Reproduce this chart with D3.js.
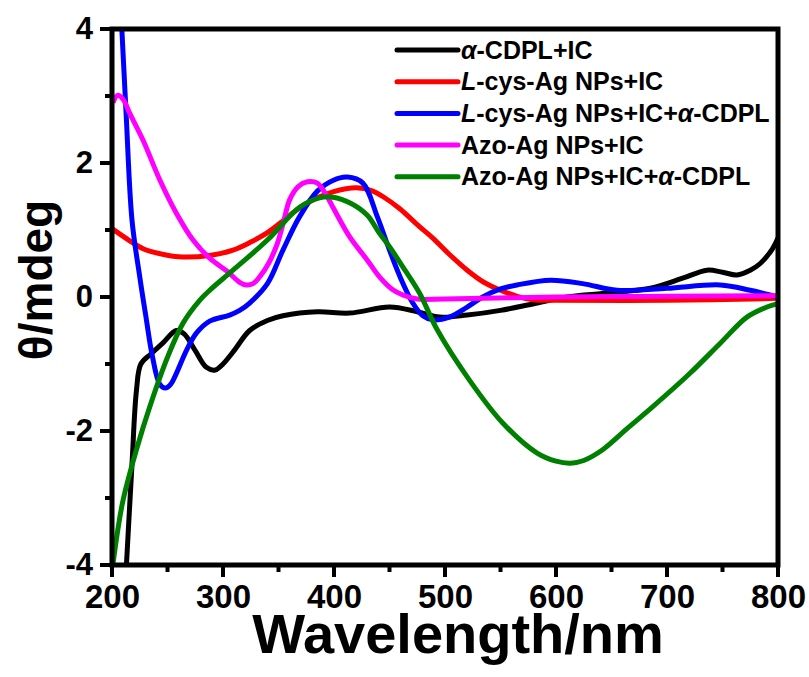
<!DOCTYPE html>
<html>
<head>
<meta charset="utf-8">
<script src="https://cdn.jsdelivr.net/npm/d3@7"></script>
<style>
  body { margin: 0; background: #fff; }
  text { font-family: Arial, "Liberation Sans", sans-serif; font-weight: bold; }
</style>
</head>
<body>
<svg></svg>
<script>
const width = 809;
const height = 677;

// wavelength (nm), theta (mdeg) pairs
const cdplIC = [[213,-4],[218,-2.5],[222,-1.4],[226,-1.0],[235,-0.85],[245,-0.7],[258,-0.5],[265,-0.55],[275,-0.8],[285,-1.05],[293,-1.09],[300,-1.0],[310,-0.8],[324,-0.5],[340,-0.35],[354,-0.28],[385,-0.22],[414,-0.24],[450,-0.15],[475,-0.22],[495,-0.3],[520,-0.27],[550,-0.2],[580,-0.1],[610,0],[640,0.05],[685,0.13],[714,0.28],[736,0.4],[750,0.37],[763,0.33],[775,0.4],[784,0.5],[795,0.72],[800,0.88]];
const lcysIC = [[200,1.02],[215,0.85],[228,0.72],[245,0.64],[260,0.6],[288,0.62],[309,0.7],[325,0.82],[340,0.96],[355,1.15],[369,1.33],[385,1.48],[399,1.57],[420,1.63],[435,1.58],[444,1.5],[459,1.32],[477,1.05],[489,0.88],[505,0.62],[520,0.4],[535,0.22],[550,0.1],[565,0.01],[579,-0.04],[600,-0.05],[700,-0.05],[800,-0.02]];
const lcysICcdpl = [[207,4.6],[211,3.3],[213,2.64],[218,1.15],[225,0.3],[231,-0.34],[236,-0.85],[243,-1.3],[248,-1.36],[253,-1.3],[258,-1.14],[267,-0.8],[276,-0.54],[288,-0.36],[306,-0.27],[315,-0.2],[324,-0.09],[340,0.2],[354,0.7],[369,1.2],[385,1.58],[399,1.74],[412,1.79],[426,1.7],[439,1.2],[450,0.7],[459,0.32],[471,-0.09],[480,-0.28],[489,-0.34],[504,-0.3],[520,-0.15],[534,0],[550,0.12],[565,0.18],[595,0.25],[624,0.2],[655,0.1],[700,0.13],[748,0.18],[775,0.1],[800,0]];
const azoIC = [[201,2.9],[205,3.01],[210,2.95],[216,2.74],[228,2.34],[243,1.75],[258,1.25],[273,0.85],[288,0.58],[304,0.38],[315,0.22],[321,0.18],[327,0.2],[333,0.3],[341,0.5],[349,0.8],[355,1.15],[360,1.45],[368,1.65],[376,1.72],[385,1.7],[392,1.55],[399,1.34],[414,0.9],[430,0.55],[441,0.3],[452,0.12],[462,0.03],[475,-0.03],[500,-0.03],[600,0],[700,0.01],[800,0.02]];
const azoICcdpl = [[201,-3.97],[205,-3.5],[210,-3.03],[222,-2.28],[234,-1.64],[250,-0.9],[264,-0.39],[279,-0.05],[288,0.1],[309,0.4],[340,0.85],[369,1.34],[387,1.48],[399,1.49],[415,1.4],[430,1.22],[441,0.95],[450,0.75],[462,0.45],[477,0.06],[493,-0.49],[522,-1.24],[552,-1.88],[583,-2.33],[600,-2.45],[613,-2.48],[625,-2.44],[642,-2.28],[665,-1.95],[687,-1.64],[720,-1.15],[748,-0.69],[772,-0.3],[790,-0.15],[800,-0.1]];

const seriesNames = ['α-CDPL+IC', 'L-cys-Ag NPs+IC', 'L-cys-Ag NPs+IC+α-CDPL', 'Azo-Ag NPs+IC', 'Azo-Ag NPs+IC+α-CDPL'];
const seriesColors = ['#000000', '#ff0000', '#0000ff', '#ff00ff', '#008000'];
const seriesData = [cdplIC, lcysIC, lcysICcdpl, azoIC, azoICcdpl];

const xTicks = [200, 300, 400, 500, 600, 700, 800];
const xMinor = [250, 350, 450, 550, 650, 750];
const yTicks = [-4, -2, 0, 2, 4];
const yMinor = [-3, -1, 1, 3];

const margin = {left: 112, right: 31, top: 29, bottom: 112};

const svg = d3.select('svg')
    .attr('width', width)
    .attr('height', height);

const x = d3.scaleLinear().domain([200, 800]).range([margin.left, width - margin.right]);
const y = d3.scaleLinear().domain([-4, 4]).range([height - margin.bottom, margin.top]);

svg.append('clipPath').attr('id', 'clip')
  .append('rect')
    .attr('x', x(200)).attr('y', y(4))
    .attr('width', x(800) - x(200)).attr('height', y(-4) - y(4));

const line = d3.line()
    .x(d => x(d[0]))
    .y(d => y(d[1]))
    .curve(d3.curveCatmullRom.alpha(0.5));

const plot = svg.append('g').attr('clip-path', 'url(#clip)');
plot.selectAll('path')
  .data(seriesData)
  .enter().append('path')
    .attr('d', line)
    .attr('fill', 'none')
    .attr('stroke', (d, i) => seriesColors[i])
    .attr('stroke-width', 5)
    .attr('stroke-linejoin', 'round');

// frame
svg.append('rect')
    .attr('x', x(200)).attr('y', y(4))
    .attr('width', x(800) - x(200)).attr('height', y(-4) - y(4))
    .attr('fill', 'none')
    .attr('stroke', '#000')
    .attr('stroke-width', 5);

// axes (labels only, marks drawn below)
const xAxis = svg.append('g')
    .attr('transform', `translate(0,${y(-4)})`)
    .call(d3.axisBottom(x).tickValues(xTicks).tickSize(0).tickPadding(20).tickFormat(d => String(d)));
const yAxis = svg.append('g')
    .attr('transform', `translate(${x(200)},0)`)
    .call(d3.axisLeft(y).tickValues(yTicks).tickSize(0).tickPadding(19).tickFormat(d => String(d)));
svg.selectAll('.domain').remove();

// tick marks, outward
const xt = xTicks.map(v => [v, 12]).concat(xMinor.map(v => [v, 7]));
const yt = yTicks.map(v => [v, 12]).concat(yMinor.map(v => [v, 7]));
svg.selectAll('rect.xtick')
  .data(xt)
  .enter().append('rect')
    .attr('class', 'xtick')
    .attr('x', d => x(d[0]) - 2).attr('y', y(-4))
    .attr('width', 4).attr('height', d => d[1])
    .attr('fill', '#000');
svg.selectAll('rect.ytick')
  .data(yt)
  .enter().append('rect')
    .attr('class', 'ytick')
    .attr('x', d => x(200) - d[1]).attr('y', d => y(d[0]) - 2)
    .attr('width', d => d[1]).attr('height', 4)
    .attr('fill', '#000');

xAxis.selectAll('.tick text')
    .attr('fill', '#000')
    .style('font-size', '33px');
yAxis.selectAll('.tick text')
    .attr('fill', '#000')
    .style('font-size', '31px');

// axis titles
svg.append('text')
    .attr('x', 458).attr('y', 653)
    .attr('text-anchor', 'middle')
    .style('font-size', '56px')
    .text('Wavelength/nm');

svg.append('text')
    .attr('transform', 'translate(52,280) rotate(-90)')
    .attr('text-anchor', 'middle')
    .style('font-size', '46px')
    .text('θ/mdeg');

// legend
const legend = svg.selectAll('g.legend')
  .data(seriesNames)
  .enter().append('g')
    .attr('class', 'legend')
    .attr('transform', (d, i) => `translate(397,${50 + i * 31.7})`);

legend.append('line')
    .attr('x1', 0).attr('x2', 61)
    .attr('stroke', (d, i) => seriesColors[i])
    .attr('stroke-width', 5)
    .attr('stroke-linecap', 'round');

legend.append('text')
    .attr('x', 64).attr('y', 8.5)
    .style('font-size', '25px')
    .each(function(d) {
        const t = d3.select(this);
        const parts = d.split(/(α|^L)/).filter(s => s.length);
        parts.forEach(p => {
            t.append('tspan')
                .style('font-style', (p === 'α' || p === 'L') ? 'italic' : 'normal')
                .text(p);
        });
    });
</script>
</body>
</html>
